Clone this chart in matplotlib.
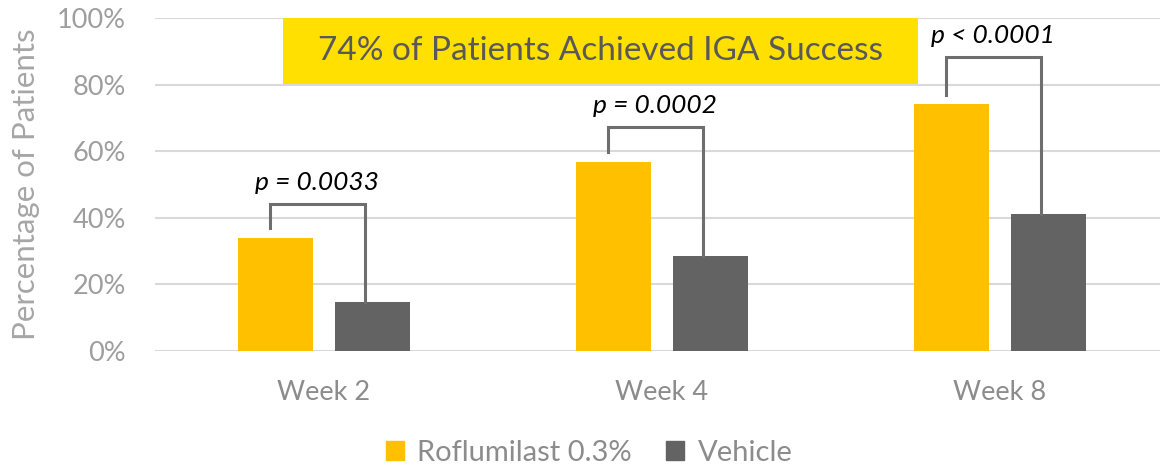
import numpy as np
import matplotlib.pyplot as plt
from matplotlib.patches import Patch

weeks = ["Week 2", "Week 4", "Week 8"]
roflumilast = [33.8, 56.8, 74.1]
vehicle = [14.8, 28.4, 41.0]
p_labels = ["p = 0.0033", "p = 0.0002", "p < 0.0001"]
bracket_top = [44.1, 67.3, 88.3]
bracket_start = [37.0, 59.8, 77.0]
yticks = [0, 20, 40, 60, 80, 100]
callout = "74% of Patients Achieved IGA Success"

plt.rcParams['font.family'] = ['Lato', 'DejaVu Sans']

fig = plt.figure(figsize=(11.6, 4.68), dpi=100)
ax = fig.add_axes([155 / 1160, 117 / 468, 1014 / 1160, 333 / 468])

x = np.arange(len(weeks))
off = 0.143
w = 0.222
ax.bar(x - off, roflumilast, w, color='#FFC000', zorder=3, label='Roflumilast 0.3%')
ax.bar(x + off, vehicle, w, color='#636363', zorder=3, label='Vehicle')

# significance brackets
for i in range(len(weeks)):
    xl = x[i] - off - 0.018
    xr = x[i] + off - 0.022
    ax.plot([xl, xl, xr, xr], [bracket_start[i], bracket_top[i], bracket_top[i], vehicle[i]],
             color='#6E6E6E', lw=2.2, zorder=4, solid_joinstyle='miter')
    ax.text((xl + xr) / 2, bracket_top[i] + 6.5, p_labels[i], style='italic',
            fontsize=19, color='black', ha='center', va='center', zorder=5)

# callout box
ax.axvspan(-0.5 + 128 / 338, -0.5 + 763 / 338, ymin=0.802, ymax=1.0, color='#FFE000', zorder=2, lw=0)
ax.text(-0.5 + 446 / 338, 90, callout, fontsize=24, color='#595959',
        ha='center', va='center', zorder=5)

ax.set_xlim(-0.5, 2.5)
ax.set_ylim(0, 100)
ax.set_yticks(yticks)
ax.set_yticklabels([f"{t}%" for t in yticks])
ax.set_xticks(x)
ax.set_xticklabels(weeks)
ax.grid(axis='y', color='#D9D9D9', lw=1.5, zorder=0)
for s in ax.spines.values():
    s.set_visible(False)
ax.tick_params(axis='both', length=0, labelsize=19.5, labelcolor='#9E9E9E')
ax.tick_params(axis='x', pad=21, labelcolor='#8C8C8C')
ax.tick_params(axis='y', pad=21)
ax.set_ylabel("Percentage of Patients", fontsize=22.5, color='#A6A6A6', labelpad=12)

handles = [Patch(color='#FFC000'), Patch(color='#636363')]
fig.legend(handles, ['Roflumilast 0.3%', 'Vehicle'], loc='center', bbox_to_anchor=(0.5 + 9 / 1160, 1 - 453 / 468),
           ncol=2, frameon=False, fontsize=21, labelcolor='#8C8C8C',
           handlelength=0.62, handleheight=0.62, handletextpad=0.45, columnspacing=1.2)

fig.savefig('out.png', dpi=100)
